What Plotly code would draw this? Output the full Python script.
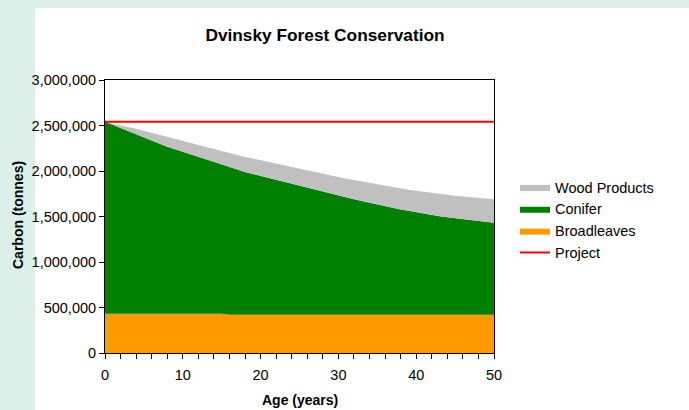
import plotly.graph_objects as go

years = list(range(0, 51))

broadleaves = [
    430000, 430000, 430000, 430000, 430000, 430000, 430000, 430000, 430000, 430000,
    430000, 430000, 430000, 430000, 430000, 430000, 420000, 420000, 420000, 420000,
    420000, 420000, 420000, 420000, 420000, 420000, 420000, 420000, 420000, 420000,
    420000, 420000, 420000, 420000, 420000, 420000, 420000, 420000, 420000, 420000,
    420000, 420000, 420000, 420000, 420000, 420000, 420000, 420000, 420000, 420000,
    420000]

conifer = [
    2110000, 2075000, 2040000, 2006000, 1972000, 1938000, 1904000, 1870000, 1837000, 1808000,
    1780000, 1752000, 1724000, 1696000, 1668000, 1640000, 1620000, 1592000, 1570000, 1548000,
    1526000, 1504000, 1483000, 1462000, 1441000, 1420000, 1398000, 1376000, 1354000, 1332000,
    1310000, 1290000, 1270000, 1250000, 1230000, 1212000, 1194000, 1176000, 1158000, 1142000,
    1126000, 1111000, 1096000, 1084000, 1072000, 1061000, 1050000, 1040000, 1030000, 1021000,
    1012000]

wood_products = [
    0, 18000, 35000, 50000, 63000, 75000, 86000, 96000, 105000, 113000,
    120000, 127000, 133000, 139000, 145000, 150000, 156000, 161000, 165000, 168000,
    171000, 174000, 177000, 179000, 181000, 183000, 186000, 190000, 194000, 198000,
    202000, 206000, 210000, 214000, 218000, 221000, 224000, 227000, 230000, 233000,
    236000, 239000, 242000, 244000, 246000, 248000, 250000, 252000, 254000, 256000,
    258000]

project_years = [0, 50]
project = [2540000, 2540000]

FONT = "Liberation Sans, Arial, sans-serif"

fig = go.Figure()
fig.add_trace(go.Scatter(x=years, y=broadleaves, name="Broadleaves", stackgroup="s",
                         mode="lines", line=dict(width=0, color="#FF9900"),
                         fillcolor="#FF9900", legendrank=3))
fig.add_trace(go.Scatter(x=years, y=conifer, name="Conifer", stackgroup="s",
                         mode="lines", line=dict(width=0, color="#008000"),
                         fillcolor="#008000", legendrank=2))
fig.add_trace(go.Scatter(x=years, y=wood_products, name="Wood Products", stackgroup="s",
                         mode="lines", line=dict(width=0, color="#C0C0C0"),
                         fillcolor="#C0C0C0", legendrank=1))
fig.add_trace(go.Scatter(x=project_years, y=project, name="Project", mode="lines",
                         line=dict(width=2, color="#FF0000"), legendrank=4))

L, R, T, B = 105, 494, 80, 353
W, H = 689, 410

def px_x(p):
    return (p - L) / (R - L)

def px_y(p):
    return (B - p) / (B - T)

shapes = [
    dict(type="rect", xref="paper", yref="paper", x0=px_x(0), x1=px_x(35),
         y0=px_y(H), y1=px_y(0), fillcolor="#dcefe9", line=dict(width=0), layer="below"),
    dict(type="rect", xref="paper", yref="paper", x0=px_x(0), x1=px_x(W),
         y0=px_y(8), y1=px_y(0), fillcolor="#dcefe9", line=dict(width=0), layer="below"),
]

fig.update_layout(
    width=W, height=H,
    margin=dict(l=L, r=W - R, t=T, b=H - B),
    paper_bgcolor="white", plot_bgcolor="white",
    font=dict(family=FONT, size=14.5, color="black"),
    title=dict(text="<b>Dvinsky Forest Conservation</b>", x=325 / W, xanchor="center",
               y=1 - 35 / H, yanchor="middle", font=dict(size=17.3, family=FONT)),
    showlegend=True,
    legend=dict(x=px_x(515), y=px_y(171), xanchor="left", yanchor="top",
                traceorder="normal", bgcolor="rgba(0,0,0,0)", font=dict(size=14.5),
                tracegroupgap=0, itemwidth=30),
    shapes=shapes,
    annotations=[
        dict(text="<b>Age (years)</b>", xref="paper", yref="paper", x=px_x(300), y=px_y(400),
             xanchor="center", yanchor="middle", showarrow=False, font=dict(size=14)),
        dict(text="<b>Carbon (tonnes)</b>", xref="paper", yref="paper", x=px_x(18), y=px_y(215),
             xanchor="center", yanchor="middle", showarrow=False, textangle=-90,
             font=dict(size=14)),
    ],
)

fig.update_xaxes(range=[0, 50], dtick=10, tick0=0, showgrid=False, zeroline=False,
                 showline=True, linecolor="black", linewidth=1, mirror=True,
                 ticks="outside", ticklen=5, tickcolor="black", ticklabelstandoff=4,
                 minor=dict(dtick=2, ticks="outside", ticklen=5, tickcolor="black", showgrid=False))
fig.update_yaxes(range=[0, 3000000], dtick=500000, tickformat=",", showgrid=False, zeroline=False,
                 showline=True, linecolor="black", linewidth=1, mirror=True,
                 ticks="outside", ticklen=5, tickcolor="black")

fig.write_html("out.html", config={"displayModeBar": False},
               post_script="document.body.style.margin='0';")
